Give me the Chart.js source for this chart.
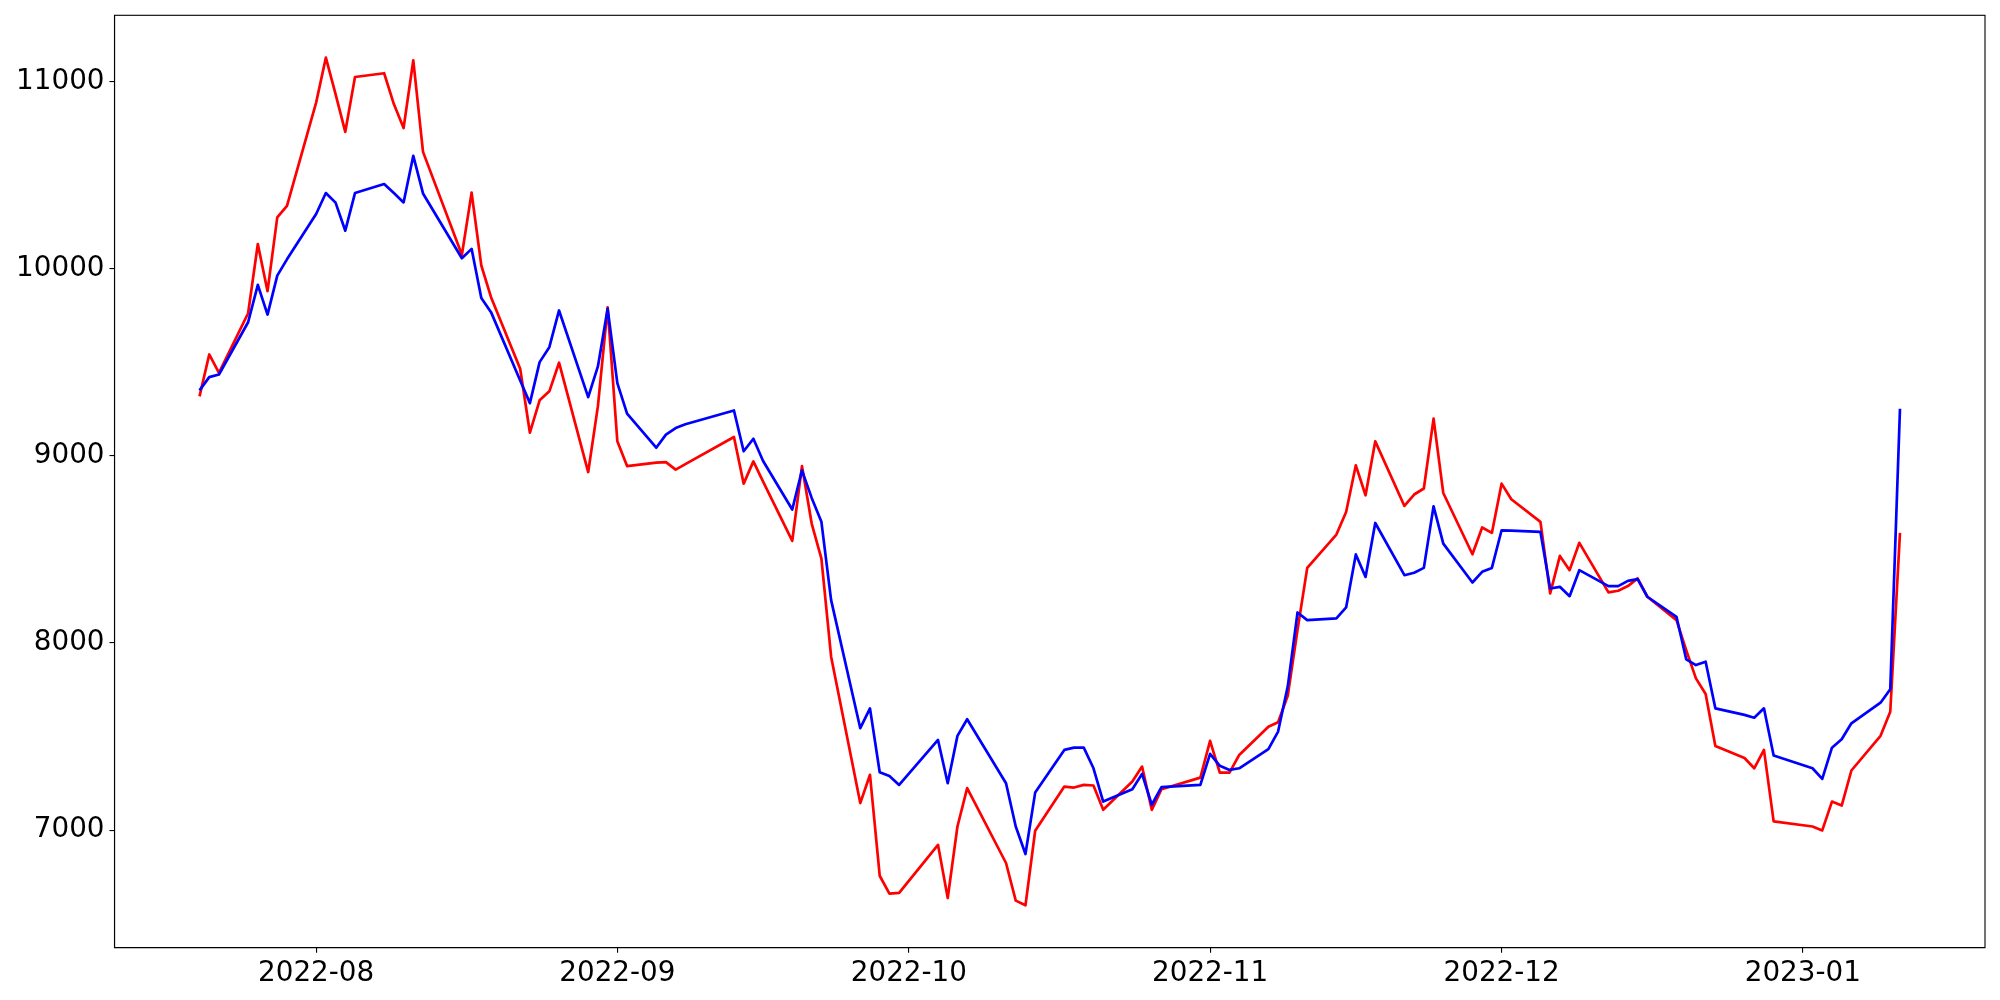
<!DOCTYPE html>
<html>
<head>
<meta charset="utf-8">
<script src="https://cdn.jsdelivr.net/npm/chart.js@4.4.1/dist/chart.umd.min.js"></script>
<style>
  html, body { margin: 0; padding: 0; background: #ffffff; }
  canvas { display: block; }
</style>
</head>
<body>
<canvas id="c" width="2000" height="1000" style="width:2000px;height:1000px"></canvas>
<script>
// ---- data ----
const dates = [
  '2022-07-20','2022-07-21','2022-07-22','2022-07-25','2022-07-26','2022-07-27','2022-07-28','2022-07-29',
  '2022-08-01','2022-08-02','2022-08-03','2022-08-04','2022-08-05','2022-08-08','2022-08-09','2022-08-10',
  '2022-08-11','2022-08-12','2022-08-16','2022-08-17','2022-08-18','2022-08-19','2022-08-22','2022-08-23',
  '2022-08-24','2022-08-25','2022-08-26','2022-08-29','2022-08-30','2022-08-31','2022-09-01','2022-09-02',
  '2022-09-05','2022-09-06','2022-09-07','2022-09-08','2022-09-13','2022-09-14','2022-09-15','2022-09-16',
  '2022-09-19','2022-09-20','2022-09-21','2022-09-22','2022-09-23','2022-09-26','2022-09-27','2022-09-28',
  '2022-09-29','2022-09-30','2022-10-04','2022-10-05','2022-10-06','2022-10-07','2022-10-11','2022-10-12',
  '2022-10-13','2022-10-14','2022-10-17','2022-10-18','2022-10-19','2022-10-20','2022-10-21','2022-10-24',
  '2022-10-25','2022-10-26','2022-10-27','2022-10-31','2022-11-01','2022-11-02','2022-11-03','2022-11-04',
  '2022-11-07','2022-11-08','2022-11-09','2022-11-10','2022-11-11','2022-11-14','2022-11-15','2022-11-16',
  '2022-11-17','2022-11-18','2022-11-21','2022-11-22','2022-11-23','2022-11-24','2022-11-25','2022-11-28',
  '2022-11-29','2022-11-30','2022-12-01','2022-12-02','2022-12-05','2022-12-06','2022-12-07','2022-12-08',
  '2022-12-09','2022-12-12','2022-12-13','2022-12-14','2022-12-15','2022-12-16','2022-12-19','2022-12-20',
  '2022-12-21','2022-12-22','2022-12-23','2022-12-26','2022-12-27','2022-12-28','2022-12-29','2023-01-02',
  '2023-01-03','2023-01-04','2023-01-05','2023-01-06','2023-01-09','2023-01-10','2023-01-11'
];

const redSeries = [
  9317, 9541, 9443, 9761, 10131, 9879, 10273, 10334,
  10886, 11126, 10931, 10730, 11023, 11043, 10878, 10750,
  11112, 10623, 10073, 10405, 10016, 9847, 9465, 9123,
  9296, 9344, 9497, 8913, 9265, 9793, 9077, 8945,
  8963, 8966, 8926, 8955, 9100, 8851, 8970, 8862,
  8545, 8945, 8638, 8451, 7927, 7145, 7296, 6757,
  6661, 6665, 6922, 6638, 7020, 7225, 6825, 6624,
  6599, 6997, 7233, 7228, 7242, 7239, 7109, 7260,
  7340, 7109, 7219, 7281, 7477, 7308, 7308, 7402,
  7553, 7577, 7720, 8070, 8401, 8579, 8700, 8949,
  8789, 9077, 8732, 8793, 8825, 9198, 8801, 8474,
  8617, 8588, 8851, 8768, 8647, 8265, 8465, 8389,
  8535, 8270, 8279, 8304, 8345, 8247, 8122, 7962,
  7811, 7728, 7450, 7386, 7331, 7429, 7047, 7020,
  6999, 7153, 7132, 7319, 7504, 7633, 8588
];

const blueSeries = [
  9349, 9420, 9434, 9713, 9913, 9754, 9962, 10049,
  10291, 10403, 10352, 10202, 10403, 10451, 10403, 10353,
  10602, 10401, 10055, 10105, 9843, 9767, 9402, 9281,
  9500, 9580, 9776, 9313, 9477, 9785, 9388, 9225,
  9043, 9113, 9148, 9168, 9242, 9024, 9091, 8972,
  8713, 8922, 8775, 8647, 8229, 7545, 7651, 7310,
  7290, 7242, 7482, 7251, 7504, 7593, 7251, 7020,
  6873, 7201, 7429, 7441, 7441, 7331, 7153, 7219,
  7301, 7136, 7230, 7242, 7408, 7344, 7322, 7331,
  7433, 7527, 7770, 8163, 8122, 8131, 8190, 8473,
  8353, 8641, 8362, 8375, 8401, 8730, 8531, 8323,
  8380, 8401, 8602, 8600, 8593, 8291, 8300, 8250,
  8389, 8304, 8304, 8332, 8341, 8247, 8140, 7913,
  7882, 7900, 7651, 7616, 7601, 7651, 7399, 7331,
  7274, 7441, 7486, 7571, 7681, 7753, 9251
];

const xTickLabels = ['2022-08', '2022-09', '2022-10', '2022-11', '2022-12', '2023-01'];
const yTickValues = [7000, 8000, 9000, 10000, 11000];

// ---- helpers ----
const DAY = 86400000;
const toDay = s => Date.parse(s + 'T00:00:00Z') / DAY;
const dayToMonth = d => {
  const dt = new Date(Math.round(d) * DAY);
  return dt.getUTCFullYear() + '-' + String(dt.getUTCMonth() + 1).padStart(2, '0');
};
const xs = dates.map(toDay);
const xTickValues = xTickLabels.map(l => toDay(l + '-01'));

const xMinD = Math.min(...xs), xMaxD = Math.max(...xs);
const xPad = (xMaxD - xMinD) * 0.05;
const allY = redSeries.concat(blueSeries);
const yMinD = Math.min(...allY), yMaxD = Math.max(...allY);
const yPad = (yMaxD - yMinD) * 0.05;

const toPts = arr => arr.map((v, i) => ({ x: xs[i], y: v }));

const frame = {
  id: 'frame',
  afterDraw(chart) {
    const a = chart.chartArea, ctx = chart.ctx;
    ctx.save();
    ctx.strokeStyle = '#000';
    ctx.lineWidth = 1.1;
    ctx.strokeRect(a.left, a.top, a.right - a.left, a.bottom - a.top);
    ctx.restore();
  }
};

const FONT = { family: 'DejaVu Sans', size: 27.8 };
const zeroPad = s => { s.paddingTop = 0; s.paddingBottom = 0; s.paddingLeft = 0; s.paddingRight = 0; };

new Chart(document.getElementById('c'), {
  type: 'line',
  data: {
    datasets: [
      {
        data: toPts(redSeries),
        borderColor: '#ff0000',
        borderWidth: 2.7,
        pointRadius: 0,
        tension: 0,
        fill: false,
        borderJoinStyle: 'round',
        order: 1
      },
      {
        data: toPts(blueSeries),
        borderColor: '#0000ff',
        borderWidth: 2.7,
        pointRadius: 0,
        tension: 0,
        fill: false,
        borderJoinStyle: 'round',
        order: 0
      }
    ]
  },
  options: {
    responsive: false,
    devicePixelRatio: 1,
    animation: false,
    events: [],
    layout: { padding: { top: 15.3, right: 15, left: 0, bottom: 0 } },
    plugins: { legend: { display: false }, tooltip: { enabled: false } },
    scales: {
      x: {
        type: 'linear',
        min: xMinD - xPad,
        max: xMaxD + xPad,
        afterBuildTicks: s => { s.ticks = xTickValues.map(v => ({ value: v })); },
        afterFit: s => { s.height = 52.3; zeroPad(s); },
        grid: { display: true, drawOnChartArea: false, drawTicks: true, tickLength: 5, color: '#000', lineWidth: 1.1 },
        border: { display: true, color: '#000', width: 1.1 },
        ticks: {
          font: FONT, color: '#000', padding: 4, maxRotation: 0, autoSkip: false,
          callback: v => dayToMonth(v)
        }
      },
      y: {
        type: 'linear',
        min: yMinD - yPad,
        max: yMaxD + yPad,
        afterBuildTicks: s => { s.ticks = yTickValues.map(v => ({ value: v })); },
        afterFit: s => { s.width = 114.5; zeroPad(s); },
        grid: { display: true, drawOnChartArea: false, drawTicks: true, tickLength: 5, color: '#000', lineWidth: 1.1 },
        border: { display: true, color: '#000', width: 1.1 },
        ticks: {
          font: FONT, color: '#000', padding: 5, autoSkip: false,
          callback: v => String(v)
        }
      }
    }
  },
  plugins: [frame]
});
</script>
</body>
</html>
